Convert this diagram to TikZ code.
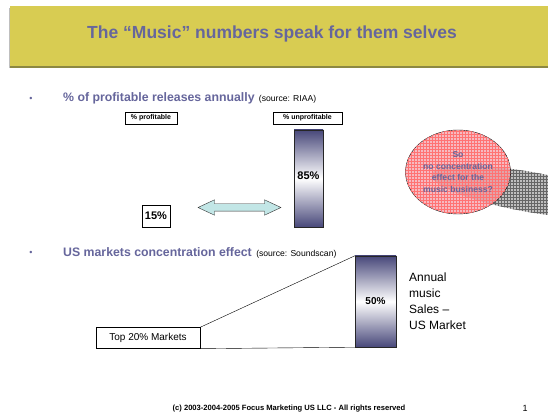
\documentclass[tikz,border=0pt]{standalone}
\usepackage{fontspec}
\setmainfont{Liberation Sans}
\usetikzlibrary{shapes.arrows,patterns,positioning}
\definecolor{bandyellow}{RGB}{216,204,82}
\definecolor{bandshadow}{RGB}{140,136,66}
\definecolor{headblue}{RGB}{102,102,156}
\definecolor{barblue}{RGB}{72,72,122}
\definecolor{arrowcyan}{RGB}{194,230,230}
\definecolor{ovalpink}{RGB}{242,150,160}
\tikzstyle{tag}=[draw,fill=white,inner sep=1pt,minimum height=12pt,font=\bfseries\fontsize{7}{8}\selectfont]
\tikzstyle{bar}=[draw=black!85,top color=barblue,bottom color=barblue,middle color=white,inner sep=0pt,font=\bfseries\fontsize{11}{12}\selectfont]
\tikzstyle{box}=[draw,fill=white,inner sep=0pt]
\tikzstyle{bullet}=[anchor=west,inner sep=0pt,text=headblue,font=\bfseries\fontsize{12.3}{14}\selectfont]
\tikzstyle{source}=[anchor=base west,inner sep=0pt,xshift=4pt,font=\fontsize{8.6}{10}\selectfont]
\tikzstyle{edge}=[draw,thin]

\begin{document}
\begin{tikzpicture}[x=1pt,y=-1pt]
\useasboundingbox[fill=white] (0,0) rectangle (548,419);
% title band
\fill[black!25] (9,8) rectangle (548,68);
\fill[bandshadow] (10,6) rectangle (548,68);
\fill[bandyellow] (10,6) rectangle (548,66);
\node[text=headblue,font=\bfseries\fontsize{17.5}{20}\selectfont] (title) at (272,34) {The “Music” numbers speak for them selves};
% first bullet
\node[text=headblue,font=\fontsize{9}{10}\selectfont] (dot1) at (31,99) {•};
\node[bullet] (head1) at (63,98) {\% of profitable releases annually};
\node[source] (src1) at (head1.base east) {(source: RIAA)};
\node[tag,minimum width=52pt] (prof) at (151,118) {\% profitable};
\node[tag,minimum width=69pt] (unprof) at (307.5,118) {\% unprofitable};
\node[bar,minimum width=29pt,minimum height=97pt] (bar85) at (308.5,178.5) {\raisebox{6pt}{85\%}};
\node[box,minimum width=28pt,minimum height=22pt,font=\bfseries\fontsize{11}{12}\selectfont] (low15) at (156,216) {15\%};
\node[double arrow,draw=black!80,fill=arrowcyan,minimum width=15pt,double arrow head extend=4pt,
  double arrow tip angle=50,minimum height=83pt,inner xsep=0pt,inner ysep=3.5pt] (arr) at (239.5,207.5) {};
% oval with its shadow
\path[fill=black!25,rotate around={-10:(530,192)},postaction={pattern=grid,pattern color=black!60}]
  (530,192) ellipse (100 and 20);
\path[draw=black,fill=ovalpink,fill opacity=0.65,postaction={pattern=grid,pattern color=red!55}]
  (458,172) ellipse (52.5 and 42);
\node[align=center,text=headblue,font=\bfseries\fontsize{8.6}{11.5}\selectfont] (askq) at (458,172)
  {So\\no concentration\\effect for the\\music business?};
% second bullet
\node[text=headblue,font=\fontsize{9}{10}\selectfont] (dot2) at (31,253) {•};
\node[bullet] (head2) at (63,252) {US markets concentration effect};
\node[source] (src2) at (head2.base east) {(source: Soundscan)};
\node[box,minimum width=104pt,minimum height=21pt,font=\fontsize{10}{12}\selectfont] (top20) at (148,338) {Top 20\% Markets};
\node[bar,minimum width=41pt,minimum height=91pt,font=\bfseries\fontsize{10}{12}\selectfont] (bar50) at (375.5,301.5) {50\%};
\path[edge] (top20.north east) -- (bar50.north west)
  (top20.south east) -- (bar50.south west);
\node[anchor=north west,align=left,inner sep=0pt,font=\fontsize{12}{16}\selectfont] (annual) at (409,273)
  {Annual\\music\\Sales –\\US Market};
% footer
\node[font=\bfseries\fontsize{7.6}{9}\selectfont] (foot) at (289,409) {(c) 2003-2004-2005 Focus Marketing US LLC - All rights reserved};
\node[font=\fontsize{9}{10}\selectfont] (page) at (525,408) {1};
\end{tikzpicture}
\end{document}
